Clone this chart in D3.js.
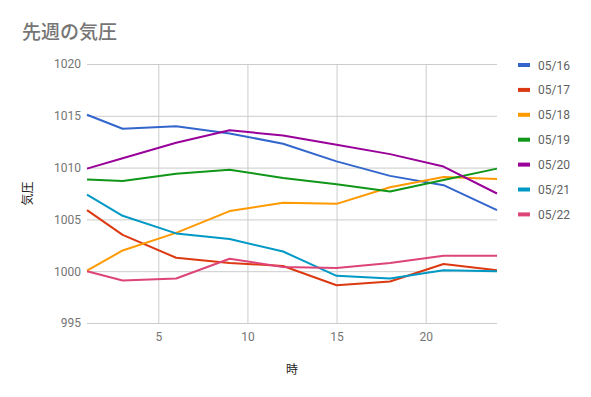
<!DOCTYPE html>
<html>
<head>
<meta charset="utf-8">
<script src="https://cdn.jsdelivr.net/npm/d3@7"></script>
<style>
  body { margin: 0; background: #fff; }
  text { font-family: Roboto, "Noto Sans CJK JP", sans-serif; }
</style>
</head>
<body>
<div id="chart"></div>
<script>
var svgWidth = 591;
var svgHeight = 397;

var margin = { top: 64, right: 94, bottom: 74, left: 87 };
var width = svgWidth - margin.left - margin.right;
var height = svgHeight - margin.top - margin.bottom;

// hours of each reading
var hours = [1, 3, 6, 9, 12, 15, 18, 21, 24];
var dates = ["05/16", "05/17", "05/18", "05/19", "05/20", "05/21", "05/22"];
var colors = ["#3366cc", "#dc3912", "#ff9900", "#109618", "#990099", "#0099c6", "#dd4477"];

var p0516 = [1015.1, 1013.75, 1014.0, 1013.3, 1012.3, 1010.6, 1009.2, 1008.3, 1005.9];
var p0517 = [1005.9, 1003.5, 1001.3, 1000.8, 1000.5, 998.65, 999.0, 1000.7, 1000.1];
var p0518 = [1000.05, 1002.0, 1003.7, 1005.8, 1006.6, 1006.5, 1008.1, 1009.1, 1008.9];
var p0519 = [1008.85, 1008.7, 1009.4, 1009.8, 1009.0, 1008.4, 1007.7, 1008.8, 1009.9];
var p0520 = [1009.9, 1010.9, 1012.4, 1013.6, 1013.1, 1012.2, 1011.3, 1010.1, 1007.5];
var p0521 = [1007.4, 1005.35, 1003.65, 1003.1, 1001.9, 999.55, 999.3, 1000.1, 1000.0];
var p0522 = [1000.0, 999.1, 999.3, 1001.2, 1000.4, 1000.3, 1000.8, 1001.5, 1001.5];

var series = [p0516, p0517, p0518, p0519, p0520, p0521, p0522];

var xTicks = [5, 10, 15, 20];
var yTicks = [995, 1000, 1005, 1010, 1015, 1020];

var svg = d3.select("#chart")
  .append("svg")
  .attr("width", svgWidth)
  .attr("height", svgHeight);

svg.append("text")
  .attr("x", 22)
  .attr("y", 39)
  .attr("fill", "#757575")
  .style("font-size", "19px")
  .style("font-weight", "500")
  .style("font-family", "'Noto Sans CJK JP', sans-serif")
  .text("先週の気圧");

var chartGroup = svg.append("g")
  .attr("transform", `translate(${margin.left}, ${margin.top})`);

var x = d3.scaleLinear().domain([1, 24]).range([0, width]);
var y = d3.scaleLinear().domain([995, 1020]).range([height, 0]);

// gridlines
chartGroup.append("g")
  .call(d3.axisLeft(y).tickValues(yTicks).tickSize(-width).tickFormat(""))
  .call(g => g.select(".domain").remove())
  .call(g => g.selectAll("line").attr("stroke", "#cccccc"));

chartGroup.append("g")
  .call(d3.axisBottom(x).tickValues(xTicks).tickSize(height).tickFormat(""))
  .call(g => g.select(".domain").remove())
  .call(g => g.selectAll("line").attr("stroke", "#cccccc"));

// tick labels
chartGroup.append("g")
  .call(d3.axisLeft(y).tickValues(yTicks).tickSize(0).tickPadding(6).tickFormat(d3.format("d")))
  .call(g => g.select(".domain").remove())
  .call(g => g.selectAll("text")
    .attr("fill", "#757575")
    .style("font-size", "12px"));

chartGroup.append("g")
  .attr("transform", `translate(0, ${height})`)
  .call(d3.axisBottom(x).tickValues(xTicks).tickSize(0).tickPadding(9))
  .call(g => g.select(".domain").remove())
  .call(g => g.selectAll("text")
    .attr("fill", "#757575")
    .style("font-size", "12px"));

// axis titles
svg.append("text")
  .attr("x", margin.left + width / 2)
  .attr("y", 374)
  .attr("text-anchor", "middle")
  .attr("fill", "#222")
  .style("font-size", "12px")
  .style("font-family", "'Noto Sans CJK JP', sans-serif")
  .text("時");

svg.append("text")
  .attr("transform", `translate(32, ${margin.top + height / 2}) rotate(-90)`)
  .attr("text-anchor", "middle")
  .attr("fill", "#222")
  .style("font-size", "12px")
  .style("font-family", "'Noto Sans CJK JP', sans-serif")
  .text("気圧");

// lines
var line = d3.line()
  .x((d, i) => x(hours[i]))
  .y(d => y(d));

chartGroup.selectAll("path.series")
  .data(series)
  .enter()
  .append("path")
  .classed("series", true)
  .attr("d", d => line(d))
  .attr("fill", "none")
  .attr("stroke", (d, i) => colors[i])
  .attr("stroke-width", 2)
  .attr("stroke-linejoin", "round");

// legend
var legend = svg.append("g")
  .attr("transform", "translate(518, 65)");

var item = legend.selectAll("g")
  .data(dates)
  .enter()
  .append("g")
  .attr("transform", (d, i) => `translate(0, ${i * 24.9})`);

item.append("rect")
  .attr("x", 0)
  .attr("y", -2)
  .attr("width", 12)
  .attr("height", 4)
  .attr("fill", (d, i) => colors[i]);

item.append("text")
  .attr("x", 20)
  .attr("y", 4.5)
  .attr("fill", "#5f5f5f")
  .style("font-size", "12px")
  .text(d => d);
</script>
</body>
</html>
